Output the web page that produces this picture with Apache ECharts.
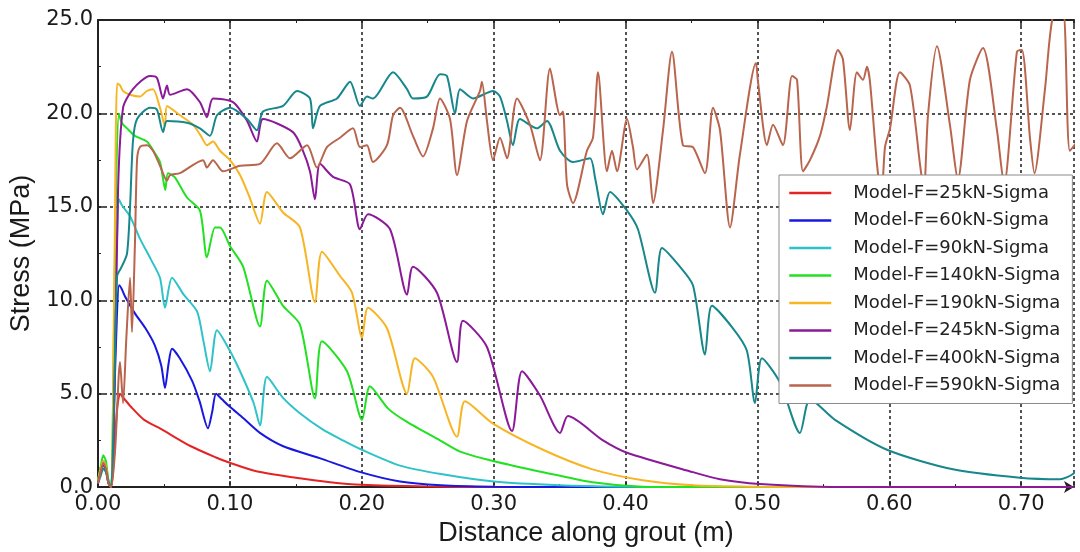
<!DOCTYPE html>
<html>
<head>
<meta charset="utf-8">
<script src="https://cdn.jsdelivr.net/npm/echarts@6/dist/echarts.min.js"></script>
<style>
  html, body { margin: 0; padding: 0; background: #fff; }
  #chart { width: 1080px; height: 552px; }
</style>
</head>
<body>
<div id="chart"></div>
<script>
// series names
var names = [
  'Model-F=25kN-Sigma', 'Model-F=60kN-Sigma', 'Model-F=90kN-Sigma', 'Model-F=140kN-Sigma',
  'Model-F=190kN-Sigma', 'Model-F=245kN-Sigma', 'Model-F=400kN-Sigma', 'Model-F=590kN-Sigma'
];

// [distance (m), stress (MPa)]
var f25 = [[0,0.3],[0.002,0.9],[0.004,1.3],[0.006,1.0],[0.008,0.2],[0.010,0],[0.012,1.5],[0.0145,4.2],[0.0167,5.0],[0.019,4.8],[0.025,4.3],[0.035,3.6],[0.048,3.1],[0.07,2.2],[0.089,1.6],[0.10,1.3],[0.12,0.85],[0.15,0.5],[0.176,0.26],[0.2,0.12],[0.25,0.03],[0.3,0],[0.74,0]];

var f60 = [[0,0.3],[0.002,1.0],[0.004,1.4],[0.006,1.1],[0.008,0.3],[0.010,0],[0.012,4],[0.0145,9.5],[0.016,10.8],[0.018,10.6],[0.0205,10.2],[0.028,9.3],[0.036,8.5],[0.043,7.6],[0.048,6.5],[0.0508,5.3],[0.0535,6.6],[0.0561,7.4],[0.062,6.9],[0.0713,5.7],[0.077,4.6],[0.0834,3.15],[0.0865,4.0],[0.0895,5.0],[0.094,4.7],[0.1,4.3],[0.11,3.7],[0.1228,2.9],[0.14,2.2],[0.168,1.55],[0.199,0.8],[0.229,0.3],[0.26,0.1],[0.3,0.02],[0.35,0],[0.74,0]];

var f90 = [[0,0.3],[0.002,1.0],[0.004,1.4],[0.006,1.1],[0.008,0.3],[0.010,0],[0.012,5],[0.014,12],[0.0159,15.4],[0.018,15.1],[0.0243,14.5],[0.0318,13.3],[0.04,12.2],[0.047,11.2],[0.0508,9.6],[0.0561,11.2],[0.065,10.3],[0.0751,9.4],[0.08,7.8],[0.0849,6.2],[0.0902,8.4],[0.1,7.3],[0.1077,6.2],[0.118,4.5],[0.1228,3.3],[0.1281,5.9],[0.14,4.8],[0.1531,3.95],[0.17,3.1],[0.1857,2.5],[0.2,2.0],[0.229,1.15],[0.26,0.7],[0.3,0.3],[0.35,0.1],[0.4,0.02],[0.45,0],[0.74,0]];

var f140 = [[0,0.4],[0.002,1.1],[0.004,1.7],[0.006,1.4],[0.008,0.3],[0.010,0],[0.012,8],[0.014,17],[0.0159,20.0],[0.018,19.5],[0.022,19.2],[0.028,18.8],[0.0371,18.5],[0.042,18.0],[0.047,17.4],[0.0493,16.5],[0.051,15.9],[0.053,16.8],[0.058,16.6],[0.0675,15.5],[0.0773,14.8],[0.0826,12.3],[0.0887,13.9],[0.0925,13.9],[0.1001,12.9],[0.11,11.8],[0.1228,8.6],[0.1281,11.05],[0.1403,9.7],[0.1531,8.7],[0.1645,4.75],[0.1698,7.8],[0.1888,6.2],[0.2002,3.6],[0.2062,5.4],[0.22,4.2],[0.234,3.5],[0.2593,2.5],[0.2745,1.9],[0.2995,1.4],[0.3374,0.8],[0.375,0.26],[0.413,0.02],[0.45,0],[0.74,0]];

var f190 = [[0,0.3],[0.002,1.0],[0.004,1.4],[0.006,1.1],[0.008,0.2],[0.010,0],[0.0125,12],[0.0145,21.6],[0.0167,21.5],[0.019,21.2],[0.0243,21.0],[0.0318,20.9],[0.037,21.2],[0.0417,21.3],[0.047,20.3],[0.0508,19.3],[0.0523,20.4],[0.0622,19.9],[0.072,19.4],[0.078,18.8],[0.0826,18.3],[0.0872,18.5],[0.0925,18.0],[0.1001,17.5],[0.1077,16.7],[0.115,15.5],[0.1228,14.1],[0.1281,15.8],[0.1403,14.7],[0.1531,13.9],[0.1645,9.9],[0.1698,12.6],[0.1835,11.3],[0.1926,10.4],[0.2002,8.0],[0.2047,9.6],[0.2191,8.5],[0.2343,5.0],[0.2403,6.9],[0.254,5.9],[0.2722,2.7],[0.2782,4.6],[0.2995,3.4],[0.3374,2.0],[0.375,0.95],[0.413,0.37],[0.451,0.1],[0.5,0.02],[0.55,0],[0.74,0]];

var f245 = [[0,0.2],[0.002,0.8],[0.004,1.2],[0.006,0.9],[0.008,0.2],[0.010,0],[0.012,3],[0.0152,15.9],[0.019,20.3],[0.0265,21.3],[0.0394,22.0],[0.0447,21.9],[0.0493,20.8],[0.0523,21.5],[0.0546,21.0],[0.0675,21.3],[0.0773,20.6],[0.0826,19.8],[0.0872,20.8],[0.1024,20.6],[0.113,19.6],[0.1205,18.5],[0.1251,19.7],[0.1478,19.0],[0.1554,18.0],[0.1607,16.9],[0.1645,15.4],[0.1683,17.3],[0.1782,16.6],[0.1911,16.2],[0.1986,13.8],[0.2047,14.6],[0.2214,13.8],[0.2343,10.3],[0.2388,11.8],[0.257,10.4],[0.2722,6.7],[0.2767,8.9],[0.2949,7.5],[0.3139,3.0],[0.3215,6.2],[0.3351,4.9],[0.3503,2.9],[0.3563,3.8],[0.3829,2.5],[0.4011,1.84],[0.4511,0.8],[0.4716,0.42],[0.5019,0.16],[0.5474,0.02],[0.6,0],[0.74,0]];

var f400 = [[0,0.2],[0.002,0.6],[0.004,1.0],[0.006,0.8],[0.008,0.2],[0.010,0],[0.012,4],[0.0145,11.3],[0.018,11.8],[0.022,12.5],[0.0243,15],[0.0265,18.5],[0.0296,19.7],[0.0394,20.3],[0.0447,20.2],[0.0493,19.0],[0.0523,19.6],[0.0675,19.5],[0.0773,19.2],[0.0849,18.8],[0.0902,19.9],[0.1001,20.3],[0.113,19.7],[0.1205,19.1],[0.1251,20.1],[0.1403,20.4],[0.1509,21.2],[0.1607,20.8],[0.163,19.2],[0.1683,20.4],[0.1812,20.8],[0.1911,21.7],[0.1986,20.4],[0.2039,20.9],[0.2085,20.8],[0.2237,22.2],[0.2343,21.3],[0.2388,20.8],[0.2494,20.9],[0.2593,22.1],[0.2646,22.0],[0.2707,20.0],[0.2745,21.3],[0.2843,20.8],[0.2995,21.2],[0.3048,20.9],[0.3101,19.6],[0.3146,18.3],[0.3199,19.7],[0.3328,19.2],[0.3404,19.6],[0.3503,18.0],[0.3601,17.4],[0.373,17.6],[0.377,16.5],[0.3829,14.6],[0.3882,15.8],[0.4011,14.8],[0.4094,13.8],[0.4223,10.4],[0.4276,12.8],[0.4412,11.8],[0.4511,10.8],[0.4602,7.1],[0.4655,9.7],[0.4814,8.5],[0.492,7.3],[0.4981,4.5],[0.5034,6.9],[0.5171,5.6],[0.5322,2.9],[0.5398,4.7],[0.5588,3.6],[0.5982,2.0],[0.6482,0.95],[0.699,0.5],[0.7293,0.42],[0.7392,0.7],[0.7445,1.15]];

var f590 = [[0,0.2],[0.002,0.8],[0.004,1.3],[0.006,1.0],[0.008,0.2],[0.010,0],[0.013,2],[0.0167,6.7],[0.019,4.5],[0.0215,8],[0.0243,11.2],[0.0258,8.3],[0.028,13],[0.0296,17.5],[0.0318,18.2],[0.0371,18.3],[0.0417,18.0],[0.047,17.2],[0.0523,16.4],[0.0546,16.7],[0.0622,16.8],[0.0796,17.5],[0.0826,17.1],[0.0872,17.5],[0.0948,16.9],[0.1077,17.2],[0.1228,17.3],[0.1357,18.4],[0.1456,17.6],[0.1585,18.3],[0.166,17.1],[0.1736,18.2],[0.1835,18.7],[0.1933,19.2],[0.1986,18.2],[0.2039,18.3],[0.2085,17.4],[0.2191,18.3],[0.2237,19.9],[0.229,20.3],[0.2388,18.8],[0.2464,17.7],[0.254,19.2],[0.2593,20.8],[0.2669,19.7],[0.2722,16.7],[0.2798,19.6],[0.2896,21.2],[0.2911,21.7],[0.2949,19.6],[0.2995,17.5],[0.3048,18.7],[0.3101,17.6],[0.3177,20.8],[0.3275,19.4],[0.3351,17.5],[0.3427,22.4],[0.3503,19.9],[0.3525,20.1],[0.3556,16.2],[0.3601,15.2],[0.3707,18.0],[0.3753,18.7],[0.3791,22.2],[0.3859,16.9],[0.3897,18.0],[0.3935,16.9],[0.4011,19.7],[0.4056,18.2],[0.4086,17.0],[0.4162,17.8],[0.4208,15.2],[0.4284,19.1],[0.4352,23.3],[0.4435,18.3],[0.4511,18.2],[0.4602,16.8],[0.4663,20.3],[0.4716,19.1],[0.4792,13.9],[0.4867,17.8],[0.4989,22.7],[0.5004,21.7],[0.5072,18.3],[0.5118,19.4],[0.5193,18.3],[0.5262,22.0],[0.53,21.8],[0.5345,16.9],[0.5398,17.5],[0.5474,18.8],[0.5527,20.4],[0.561,23.4],[0.5648,22.9],[0.5701,19.1],[0.5754,22.2],[0.58,21.8],[0.583,22.5],[0.5853,21.7],[0.5906,17.3],[0.594,15.5],[0.5967,18.2],[0.6005,19.2],[0.608,22.2],[0.6156,21.5],[0.6232,17.3],[0.6262,15.8],[0.6293,19.9],[0.6361,23.6],[0.6459,19.4],[0.652,16.5],[0.6611,21.8],[0.671,23.5],[0.6816,19.1],[0.687,16.2],[0.6967,23.3],[0.7005,23.4],[0.7066,18.7],[0.71,16.8],[0.718,21.3],[0.724,25.2],[0.7316,25.5],[0.7369,18.0],[0.7445,18.7]];

var curves = [f25, f60, f90, f140, f190, f245, f400, f590];
var colors = ['#e42424', '#1818e0', '#2fc3c9', '#22e022', '#f7b523', '#8a1a98', '#17878b', '#b9654d'];

var myChart = echarts.init(document.getElementById('chart'));

var dotted = { color: '#2a2a2a', width: 1.6, type: [3, 3] };

var option = {
  animation: false,
  backgroundColor: '#fff',
  grid: { left: 98, right: 6, top: 20, bottom: 57 },
  legend: {
    orient: 'vertical',
    left: 779,
    top: 175,
    padding: [9, 12, 9, 9],
    itemWidth: 42,
    itemHeight: 18,
    itemGap: 9.5,
    backgroundColor: '#fff',
    borderColor: '#8a8a8a',
    borderWidth: 1,
    itemStyle: { opacity: 0 },
    lineStyle: { width: 2.5 },
    textStyle: { fontFamily: 'DejaVu Sans', fontSize: 18, color: '#222', padding: [0, 0, 0, 17] },
    data: names
  },
  xAxis: [
    {
      type: 'value',
      min: 0,
      max: 0.74,
      interval: 0.1,
      name: 'Distance along grout (m)',
      nameLocation: 'middle',
      nameGap: 27,
      nameTextStyle: { fontFamily: 'Liberation Sans', fontSize: 27, color: '#1a1a1a' },
      axisLine: { show: true, lineStyle: { color: '#222', width: 2 }, symbol: ['none', 'arrow'], symbolSize: [9, 10] },
      axisTick: { inside: true, length: 6, lineStyle: { color: '#222', width: 1.5 } },
      minorTick: { show: true, splitNumber: 2, length: 3, lineStyle: { color: '#222' } },
      axisLabel: {
        fontFamily: 'DejaVu Sans', fontSize: 21, color: '#1a1a1a', margin: 7, showMaxLabel: false,
        formatter: function (v) { return v.toFixed(2); }
      },
      splitLine: { show: true, lineStyle: dotted }
    },
    {
      type: 'value',
      position: 'top',
      min: 0,
      max: 0.74,
      interval: 0.1,
      axisLine: { show: true, lineStyle: { color: '#222', width: 2 } },
      axisTick: { inside: true, length: 6, lineStyle: { color: '#222', width: 1.5 } },
      minorTick: { show: true, splitNumber: 2, length: 3, lineStyle: { color: '#222' } },
      axisLabel: { show: false },
      splitLine: { show: false }
    }
  ],
  yAxis: {
    type: 'value',
    min: 0,
    max: 25,
    interval: 5,
    name: 'Stress (MPa)',
    nameLocation: 'middle',
    nameGap: 60,
    nameTextStyle: { fontFamily: 'Liberation Sans', fontSize: 27, color: '#1a1a1a' },
    axisLine: { show: true, lineStyle: { color: '#222', width: 2 } },
    axisTick: { inside: true, length: 6, lineStyle: { color: '#222', width: 1.5 } },
    minorTick: { show: true, splitNumber: 2, length: 3, lineStyle: { color: '#222' } },
    axisLabel: {
      fontFamily: 'DejaVu Sans', fontSize: 21, color: '#1a1a1a', margin: 5,
      formatter: function (v) { return v.toFixed(1); }
    },
    splitLine: { show: true, lineStyle: dotted }
  },
  series: names.map(function (n, i) {
    return {
      name: n,
      type: 'line',
      xAxisIndex: 0,
      data: curves[i],
      symbol: 'none',
      smooth: 0.25,
      clip: true,
      lineStyle: { width: 2, color: colors[i] },
      itemStyle: { color: colors[i] }
    };
  })
};

myChart.setOption(option);
window.addEventListener('resize', function () {
  myChart.resize();
});
</script>
</body>
</html>
